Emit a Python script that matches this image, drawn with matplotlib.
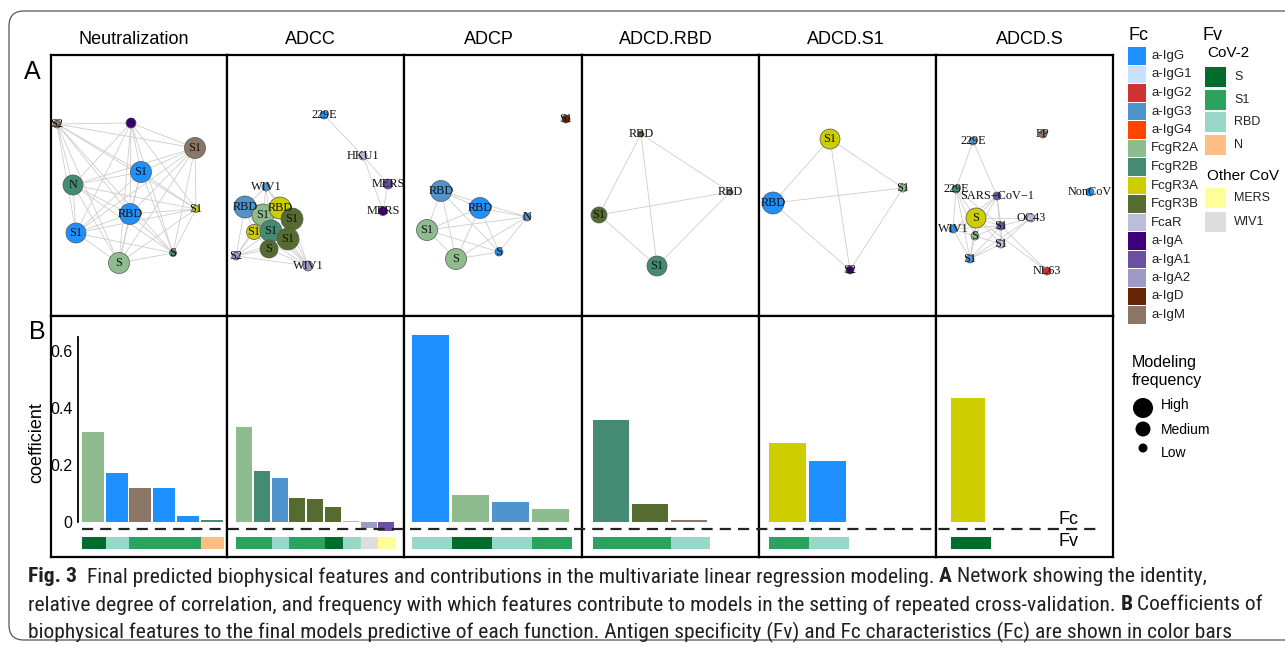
import matplotlib
matplotlib.use("Agg")
import matplotlib.pyplot as plt
from matplotlib.patches import Circle, Rectangle, FancyBboxPatch
from itertools import combinations

plt.rcParams['font.family'] = ['Liberation Sans', 'DejaVu Sans']

W, H = 1285, 651

# ---- palettes (legend) ----
fc_names = ["a-IgG", "a-IgG1", "a-IgG2", "a-IgG3", "a-IgG4", "FcgR2A", "FcgR2B",
            "FcgR3A", "FcgR3B", "FcaR", "a-IgA", "a-IgA1", "a-IgA2", "a-IgD", "a-IgM"]
fc_colors = ["#1E90FF", "#C6E2FF", "#CD3333", "#4F94CD", "#FF4500", "#8FBC8F", "#458B74",
             "#CDCD00", "#556B2F", "#BCBDDC", "#3F007D", "#6A51A3", "#9E9AC8", "#662506", "#8B7765"]
cov2_names = ["S", "S1", "RBD", "N"]
cov2_colors = ["#006D2C", "#2CA25F", "#99D8C9", "#FDBE85"]
other_names = ["MERS", "WIV1"]
other_colors = ["#FFFF99", "#DDDDDD"]
freq_names = ["High", "Medium", "Low"]

FC = dict(zip(fc_names, fc_colors))
FV = dict(zip(cov2_names + other_names, cov2_colors + other_colors))

functions = ["Neutralization", "ADCC", "ADCP", "ADCD.RBD", "ADCD.S1", "ADCD.S"]

# ---- panel B: coefficients ----
neut_fc = ["FcgR2A", "a-IgG", "a-IgM", "a-IgG", "a-IgG", "FcgR2B"]
neut_fv = ["S", "RBD", "S1", "S1", "S1", "N"]
neut_coef = [0.316, 0.172, 0.119, 0.119, 0.021, 0.008]

adcc_fc = ["FcgR2A", "FcgR2B", "a-IgG3", "FcgR3B", "FcgR3B", "FcgR3B", "FcgR3A", "a-IgA2", "a-IgA1"]
adcc_fv = ["S1", "S1", "RBD", "S1", "S1", "S", "RBD", "WIV1", "MERS"]
adcc_coef = [0.333, 0.179, 0.154, 0.084, 0.081, 0.053, 0.004, -0.02, -0.03]

adcp_fc = ["a-IgG", "FcgR2A", "a-IgG3", "FcgR2A"]
adcp_fv = ["RBD", "S", "RBD", "S1"]
adcp_coef = [0.656, 0.095, 0.070, 0.046]

rbd_fc = ["FcgR2B", "FcgR3B", "a-IgM"]
rbd_fv = ["S1", "S1", "RBD"]
rbd_coef = [0.358, 0.063, 0.008]

s1_fc = ["FcgR3A", "a-IgG"]
s1_fv = ["S1", "RBD"]
s1_coef = [0.277, 0.214]

s_fc = ["FcgR3A"]
s_fv = ["S"]
s_coef = [0.435]

# ---- panel A: networks (layout coords inside each panel) ----
net_neut_lab = ["S2", "S", "S1", "S1", "N", "RBD", "S1", "S1", "S", "S"]
net_neut_fc = ["a-IgM", "a-IgA", "a-IgM", "a-IgG", "FcgR2B", "a-IgG", "FcgR3A", "a-IgG", "FcgR2A", "FcgR2B"]
net_neut_x = [6, 80, 144, 90, 22, 79, 145, 25, 68, 122]
net_neut_y = [69, 68, 93, 117, 130, 159, 154, 178, 208, 198]
net_neut_r = [4, 5, 10.5, 10.5, 10, 10.5, 3.5, 10, 10.5, 3.5]
net_neut_edges = list(combinations(range(10), 2))  # fully connected

net_adcc_lab = ["229E", "HKU1", "MERS", "MERS", "WIV1", "RBD", "S1", "RBD", "S1", "S1", "S1", "S1", "S", "S2", "WIV1"]
net_adcc_fc = ["a-IgG", "FcaR", "a-IgA1", "a-IgA", "a-IgG3", "a-IgG3", "FcgR2A", "FcgR3A", "FcgR3B",
               "FcgR3A", "FcgR2B", "FcgR3B", "FcgR3B", "a-IgA2", "a-IgA2"]
net_adcc_x = [97, 136, 161, 156, 39, 18, 36, 53, 65, 27, 44, 61, 42, 9, 81]
net_adcc_y = [60, 101, 129, 156, 132, 152, 160, 153, 164, 177, 176, 184, 194, 201, 211]
net_adcc_r = [4, 4, 5, 4.5, 4, 11, 11, 11, 11, 7.5, 11, 11, 9, 4, 5]
net_adcc_edges = [(0, 1), (1, 2), (1, 3), (2, 3),
                  (4, 5), (4, 6), (4, 7), (4, 8), (4, 10), (5, 6), (5, 7), (5, 9), (5, 10), (5, 12),
                  (5, 13), (6, 7), (6, 8), (6, 9), (6, 10), (6, 11), (6, 12), (6, 13), (6, 14),
                  (7, 8), (7, 10), (7, 11), (7, 14), (8, 10), (8, 11), (8, 14), (9, 10), (9, 12),
                  (9, 13), (9, 14), (10, 11), (10, 12), (10, 13), (10, 14), (11, 12), (11, 13),
                  (11, 14), (12, 13), (12, 14), (13, 14)]

net_adcp_lab = ["S1", "RBD", "RBD", "N", "S1", "S", "S"]
net_adcp_fc = ["a-IgD", "a-IgG3", "a-IgG", "a-IgG3", "FcgR2A", "FcgR2A", "a-IgG"]
net_adcp_x = [162, 37, 76, 123, 23, 52, 95]
net_adcp_y = [64, 136, 153, 162, 175, 204, 197]
net_adcp_r = [4, 10.5, 10.5, 4, 10.5, 10.5, 4]
net_adcp_edges = [(1, 2), (1, 3), (1, 4), (1, 5), (1, 6), (2, 3), (2, 4), (2, 5), (2, 6),
                  (3, 4), (3, 5), (3, 6), (4, 5), (4, 6), (5, 6)]

net_rbd_lab = ["RBD", "RBD", "S1", "S1"]
net_rbd_fc = ["FcgR3B", "a-IgM", "FcgR3B", "FcgR2B"]
net_rbd_x = [59, 148, 17, 75]
net_rbd_y = [79, 137, 160, 211]
net_rbd_r = [3, 3, 8, 10]
net_rbd_edges = [(0, 1), (0, 2), (0, 3), (1, 2), (1, 3), (2, 3)]

net_s1_lab = ["S1", "S1", "RBD", "S2"]
net_s1_fc = ["FcgR3A", "FcgR2A", "a-IgG", "a-IgA"]
net_s1_x = [71, 144, 14, 91]
net_s1_y = [84, 133, 148, 215]
net_s1_r = [10, 4, 11, 4]
net_s1_edges = [(0, 1), (0, 2), (0, 3), (1, 2), (1, 3), (2, 3)]

net_s_lab = ["FP", "229E", "229E", "SARS\u2212CoV\u22121", "NonCoV", "S", "OC43", "WIV1",
             "S1", "S", "S1", "S1", "NL63"]
net_s_fc = ["a-IgM", "a-IgG3", "FcgR2B", "a-IgA1", "a-IgG", "FcgR3A", "FcaR", "a-IgG",
            "a-IgA1", "FcgR2A", "FcaR", "a-IgG3", "a-IgG2"]
net_s_x = [107, 37, 20, 61, 154, 40, 95, 17, 65, 39, 65, 34, 111]
net_s_y = [79, 86, 134, 141, 137, 163, 163, 174, 171, 181, 189, 204, 216]
net_s_r = [4, 4, 4, 4, 4, 10, 4, 4, 4, 4, 4, 4, 4]
net_s_edges = [(1, 2), (1, 3), (2, 5), (2, 7), (2, 8), (2, 9), (2, 11), (3, 5), (3, 7), (3, 8),
               (3, 9), (3, 10), (5, 6), (5, 7), (5, 8), (5, 9), (5, 10), (5, 11), (5, 12),
               (6, 8), (6, 10), (6, 11), (7, 8), (7, 9), (7, 11), (8, 9), (8, 10), (8, 11),
               (8, 12), (9, 10), (9, 11), (10, 11)]

networks = [
    (net_neut_lab, net_neut_fc, net_neut_x, net_neut_y, net_neut_r, net_neut_edges),
    (net_adcc_lab, net_adcc_fc, net_adcc_x, net_adcc_y, net_adcc_r, net_adcc_edges),
    (net_adcp_lab, net_adcp_fc, net_adcp_x, net_adcp_y, net_adcp_r, net_adcp_edges),
    (net_rbd_lab, net_rbd_fc, net_rbd_x, net_rbd_y, net_rbd_r, net_rbd_edges),
    (net_s1_lab, net_s1_fc, net_s1_x, net_s1_y, net_s1_r, net_s1_edges),
    (net_s_lab, net_s_fc, net_s_x, net_s_y, net_s_r, net_s_edges),
]
bars = [(neut_fc, neut_fv, neut_coef), (adcc_fc, adcc_fv, adcc_coef), (adcp_fc, adcp_fv, adcp_coef),
        (rbd_fc, rbd_fv, rbd_coef), (s1_fc, s1_fv, s1_coef), (s_fc, s_fv, s_coef)]

# ---- layout (pixels) ----
col_x = [51, 227, 404, 582, 759, 936, 1113]
top_y0, mid_y, bot_y1 = 55, 316, 557
title_x = [134, 310, 489, 666, 846, 1030]
bar_left = [82, 236, 412, 593, 769, 951]
bar_unit = [23.7, 17.8, 40, 39, 40, 40]
bar_w = [22, 16, 37, 36, 37, 34]
zero_px, px_per_unit = 522, 285.0


def val(py):
    return (zero_px - py) / px_per_unit


def box(x0, y0, x1, y1):
    return [x0 / W, 1 - y1 / H, (x1 - x0) / W, (y1 - y0) / H]


fig = plt.figure(figsize=(W / 100, H / 100), dpi=100)


def frame(ax):
    ax.set_xticks([])
    ax.set_yticks([])
    for sp in ax.spines.values():
        sp.set_linewidth(1.6)
        sp.set_color("black")


for k in range(6):
    x0, x1 = col_x[k], col_x[k + 1]
    # network
    ax = fig.add_axes(box(x0, top_y0, x1, mid_y))
    frame(ax)
    ax.set_xlim(0, x1 - x0)
    ax.set_ylim(mid_y - top_y0, 0)
    lab, fcs, xs, ys, rs, edges = networks[k]
    for i, j in edges:
        ax.plot([xs[i], xs[j]], [ys[i], ys[j]], color="#CDCDCD", lw=0.6, zorder=1)
    for i in range(len(lab)):
        ax.add_patch(Circle((xs[i], ys[i]), rs[i], facecolor=FC[fcs[i]], edgecolor="#555555",
                            lw=0.5, zorder=2))
    for i in range(len(lab)):
        ax.text(xs[i], ys[i], lab[i], ha="center", va="center", fontsize=8.8,
                family="Liberation Serif", color="#111111", zorder=3, clip_on=False)

    # bars
    fcs, fvs, coef = bars[k]
    u = bar_unit[k]
    ax = fig.add_axes(box(x0, mid_y, x1, bot_y1))
    frame(ax)
    ax.set_xlim((x0 - bar_left[k]) / u, (x1 - bar_left[k]) / u)
    ax.set_ylim(val(bot_y1), val(mid_y))
    ax.bar(range(len(coef)), coef, width=bar_w[k] / u, align="edge",
           color=[FC[f] for f in fcs], linewidth=0)
    ax.bar(range(len(fvs)), [val(537) - val(549)] * len(fvs), bottom=val(549), width=1.0,
           align="edge", color=[FV[f] for f in fvs], linewidth=0)

# y axis of panel B
axy = fig.add_axes(box(78, mid_y, 80, bot_y1))
axy.set_ylim(val(bot_y1), val(mid_y))
axy.patch.set_alpha(0)
for s in ["top", "right", "bottom"]:
    axy.spines[s].set_visible(False)
axy.spines["left"].set_bounds(0, 0.65)
axy.spines["left"].set_linewidth(1.3)
axy.set_xticks([])
axy.set_yticks([0, 0.2, 0.4, 0.6])
axy.set_yticklabels(["0", "0.2", "0.4", "0.6"])
axy.tick_params(axis="y", length=0, pad=4, labelsize=11.5)

# ---- overlay: texts, legend, frame ----
ov = fig.add_axes([0, 0, 1, 1])
ov.set_xlim(0, W)
ov.set_ylim(H, 0)
ov.axis("off")
ov.patch.set_alpha(0)

ov.add_patch(FancyBboxPatch((9, 11), 1320, 629, boxstyle="round,pad=0,rounding_size=15",
                            facecolor="none", edgecolor="#555555", lw=0.9, clip_on=False))

for k, name in enumerate(functions):
    ov.text(title_x[k], 39, name, ha="center", va="center", fontsize=13)
ov.text(32, 72, "A", ha="center", va="center", fontsize=18)
ov.text(37, 332, "B", ha="center", va="center", fontsize=18)
ov.text(37, 443, "coefficient", ha="center", va="center", rotation=90, fontsize=13)

ov.plot([82, 1102], [529, 529], color="#222222", lw=1.6, dashes=(5, 3.2))
ov.text(1058, 520, "Fc", ha="left", va="center", fontsize=13)
ov.text(1058, 541, "Fv", ha="left", va="center", fontsize=13)

# Fc legend
ov.text(1128, 35, "Fc", ha="left", va="center", fontsize=13)
for i, (n, c) in enumerate(zip(fc_names, fc_colors)):
    yc = 56 + i * 18.5
    ov.add_patch(Rectangle((1128, yc - 8.7), 18, 17.4, facecolor=c, edgecolor="none"))
    ov.text(1151, yc, n, ha="left", va="center", fontsize=9.5, color="#222222")

# Fv legend
ov.text(1203, 35, "Fv", ha="left", va="center", fontsize=13)
ov.text(1207, 53, "CoV-2", ha="left", va="center", fontsize=11)
for i, (n, c) in enumerate(zip(cov2_names, cov2_colors)):
    yc = 77 + i * 22.7
    ov.add_patch(Rectangle((1205, yc - 10), 21, 20, facecolor=c, edgecolor="none"))
    ov.text(1234, yc, n, ha="left", va="center", fontsize=9, color="#222222")
ov.text(1207, 176, "Other CoV", ha="left", va="center", fontsize=11)
for i, (n, c) in enumerate(zip(other_names, other_colors)):
    yc = 198 + i * 24
    ov.add_patch(Rectangle((1205, yc - 10), 21, 20, facecolor=c, edgecolor="none"))
    ov.text(1234, yc, n, ha="left", va="center", fontsize=9, color="#222222")

# modeling frequency legend
ov.text(1132, 362, "Modeling", ha="left", va="center", fontsize=11.5)
ov.text(1132, 380, "frequency", ha="left", va="center", fontsize=11.5)
for n, yc, r, ty in zip(freq_names, [408, 429, 448], [10, 7.5, 4.5], [405, 430, 453]):
    ov.add_patch(Circle((1143, yc), r, facecolor="black", edgecolor="none"))
    ov.text(1161, ty, n, ha="left", va="center", fontsize=10)

# caption
cap_font = ["Liberation Sans Narrow", "Roboto Condensed", "Liberation Sans"]
cap_lines = [
    [("Fig. 3", "bold"), ("Final predicted biophysical features and contributions in the multivariate "
                          "linear regression modeling.", "normal"), ("A", "bold"),
     ("Network showing the identity,", "normal")],
    [("relative degree of correlation, and frequency with which features contribute to models in the "
      "setting of repeated cross-validation.", "normal"), ("B", "bold"), ("Coefficients of", "normal")],
    [("biophysical features to the final models predictive of each function. Antigen specificity (Fv) "
      "and Fc characteristics (Fc) are shown in color bars", "normal")],
]
cap_y = [577, 605, 632]
cap_right = [1262, 1263]
renderer = fig.canvas.get_renderer()


def measure(s, size, weight):
    t = ov.text(0, 0, s, fontsize=size, family=cap_font, fontweight=weight, fontstretch="condensed")
    w = t.get_window_extent(renderer).width
    t.remove()
    return w


def line_width(runs, size):
    sp = measure("x x", size, "normal") - measure("xx", size, "normal")
    tot = 0
    for i, (s, wgt) in enumerate(runs):
        tot += measure(s, size, wgt)
        if i < len(runs) - 1:
            tot += sp * (2 if s.startswith("Fig") else 1)
    return tot


base = 12.0
cap_size = min(base * (r - 28) / line_width(runs, base) for runs, r in zip(cap_lines, cap_right))
space = measure("x x", cap_size, "normal") - measure("xx", cap_size, "normal")
for runs, yc in zip(cap_lines, cap_y):
    x = 28
    for i, (s, wgt) in enumerate(runs):
        t = ov.text(x, yc, s, ha="left", va="center", fontsize=cap_size, family=cap_font,
                    fontweight=wgt, fontstretch="condensed", color="#231F20")
        x += t.get_window_extent(renderer).width
        x += space * (2 if s.startswith("Fig") else 1)

fig.savefig("out.png", dpi=100)
